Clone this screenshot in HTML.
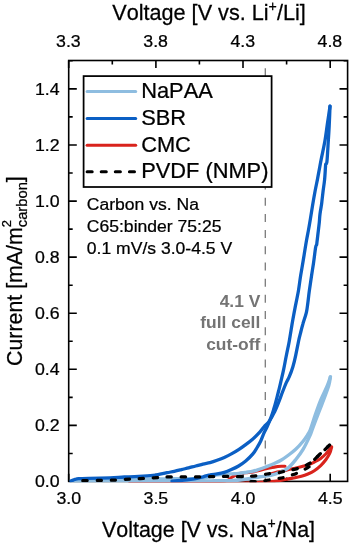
<!DOCTYPE html>
<html lang="en"><head><meta charset="utf-8"><title>Cyclic voltammetry of binders</title>
<style>html,body{margin:0;padding:0;background:#fff;}body{width:350px;height:544px;overflow:hidden;}svg{display:block;}text{font-kerning:none;stroke:#000;stroke-width:0.25px;font-family:"Liberation Sans",sans-serif;fill:#000;}</style>
</head><body>
<svg width="350" height="544" viewBox="0 0 350 544">
<rect width="350" height="544" fill="#fff"/>
<g stroke="#000" stroke-width="1.6" fill="none" stroke-linecap="butt">
<rect x="68.7" y="60.5" width="278.9" height="420.9"/>
<path d="M68.7 481.4v-7.6 M68.7 60.5v7.6"/>
<path d="M155.9 481.4v-7.6 M155.9 60.5v7.6"/>
<path d="M243.0 481.4v-7.6 M243.0 60.5v7.6"/>
<path d="M330.2 481.4v-7.6 M330.2 60.5v7.6"/>
<path d="M112.3 481.4v-4.0 M112.3 60.5v4.0"/>
<path d="M199.4 481.4v-4.0 M199.4 60.5v4.0"/>
<path d="M286.6 481.4v-4.0 M286.6 60.5v4.0"/>
<path d="M68.7 425.4h8.1 M347.6 425.4h-8.1"/>
<path d="M68.7 369.3h8.1 M347.6 369.3h-8.1"/>
<path d="M68.7 313.2h8.1 M347.6 313.2h-8.1"/>
<path d="M68.7 257.1h8.1 M347.6 257.1h-8.1"/>
<path d="M68.7 201.1h8.1 M347.6 201.1h-8.1"/>
<path d="M68.7 145.0h8.1 M347.6 145.0h-8.1"/>
<path d="M68.7 88.9h8.1 M347.6 88.9h-8.1"/>
<path d="M68.7 453.5h4.0 M347.6 453.5h-4.0"/>
<path d="M68.7 397.4h4.0 M347.6 397.4h-4.0"/>
<path d="M68.7 341.3h4.0 M347.6 341.3h-4.0"/>
<path d="M68.7 285.2h4.0 M347.6 285.2h-4.0"/>
<path d="M68.7 229.1h4.0 M347.6 229.1h-4.0"/>
<path d="M68.7 173.0h4.0 M347.6 173.0h-4.0"/>
<path d="M68.7 116.9h4.0 M347.6 116.9h-4.0"/>
<path d="M68.7 60.8h4.0 M347.6 60.8h-4.0"/>
</g>
<path d="M265.3 68.3V481" stroke="#7a7a7a" stroke-width="1.3" stroke-dasharray="8 8.18" fill="none"/>
<clipPath id="pc"><rect x="69.5" y="59" width="279" height="423.2"/></clipPath>
<g clip-path="url(#pc)">
<path d="M130.0 482.2 C141.7 482.2 184.2 482.2 200.0 482.0 C215.8 481.8 219.7 481.7 225.0 480.9 C230.3 480.1 229.7 478.4 232.0 477.2 C234.3 476.0 236.3 474.5 238.6 473.7 C240.9 473.0 243.3 473.1 245.7 472.8 C248.1 472.5 250.5 472.4 252.9 472.0 C255.3 471.6 257.6 470.9 260.0 470.3 C262.4 469.7 264.7 469.1 267.1 468.6 C269.5 468.1 271.9 467.5 274.3 467.1 C276.7 466.7 279.6 466.4 281.4 466.3 C283.2 466.2 284.4 466.3 285.0 466.3" stroke="#d9231c" stroke-width="3.1" fill="none" stroke-linecap="round" stroke-linejoin="round"/>
<path d="M268.0 474.6 C269.0 474.3 272.0 473.5 274.0 473.0 C276.0 472.5 278.1 472.0 280.0 471.6 C281.9 471.2 283.2 470.9 285.7 470.4 C288.2 469.8 292.3 468.9 295.0 468.3 C297.7 467.7 299.9 467.2 302.0 466.6 C304.1 466.0 305.8 465.6 307.9 464.9 C309.9 464.1 312.2 463.2 314.3 462.1 C316.4 461.0 318.8 459.8 320.7 458.4 C322.6 457.0 324.3 455.5 325.8 454.0 C327.3 452.5 328.5 450.8 329.5 449.6 C330.5 448.4 331.2 447.4 331.6 447.0" stroke="#d9231c" stroke-width="3.1" fill="none" stroke-linecap="round" stroke-linejoin="round"/>
<path d="M331.6 447.0 C331.3 448.1 330.7 451.3 329.7 453.4 C328.7 455.5 327.3 457.8 325.8 459.8 C324.3 461.8 322.6 463.8 320.7 465.6 C318.8 467.4 316.4 469.3 314.3 470.7 C312.2 472.1 310.0 473.1 307.9 474.0 C305.8 474.9 303.5 475.7 301.4 476.3 C299.2 476.9 297.1 477.4 295.0 477.8 C292.9 478.2 292.1 478.3 288.6 478.9 C285.2 479.5 279.1 480.8 274.3 481.4 C269.5 481.9 265.7 481.9 260.0 482.2 C254.3 482.5 261.7 483.0 240.0 483.0 C218.3 483.0 148.3 482.4 130.0 482.3" stroke="#d9231c" stroke-width="3.1" fill="none" stroke-linecap="round" stroke-linejoin="round"/>
<path d="M75.0 481.3 C79.2 481.2 91.7 480.9 100.0 480.6 C108.3 480.4 115.8 480.1 125.0 479.8 C134.2 479.5 147.5 479.2 155.0 479.0 C162.5 478.8 162.5 478.9 170.0 478.8 C177.5 478.7 193.3 478.9 200.0 478.5 C206.7 478.1 207.2 477.1 210.0 476.5 C212.8 475.9 214.6 475.3 217.0 474.9 C219.4 474.5 221.9 474.3 224.3 474.2 C226.7 474.0 229.0 474.0 231.4 473.9 C233.8 473.7 236.2 473.7 238.6 473.4 C241.0 473.2 243.3 472.8 245.7 472.4 C248.1 472.0 250.5 471.8 252.9 471.2 C255.3 470.7 257.6 469.8 260.0 469.0 C262.4 468.2 264.7 467.3 267.1 466.4 C269.5 465.5 271.9 464.6 274.3 463.5 C276.7 462.4 279.0 461.4 281.4 460.0 C283.8 458.6 286.2 456.8 288.6 455.0 C291.0 453.2 293.3 451.4 295.7 449.2 C298.1 447.0 301.0 443.8 302.9 441.5 C304.8 439.3 305.9 437.6 307.1 435.7 C308.3 433.7 309.0 433.2 310.3 429.8 C311.6 426.4 313.5 420.0 315.2 415.1 C316.9 410.2 318.6 405.3 320.6 400.4 C322.6 395.5 325.7 389.6 327.3 385.7 C328.9 381.8 329.9 378.4 330.4 376.9" stroke="#8ebde0" stroke-width="3.4" fill="none" stroke-linecap="round" stroke-linejoin="round"/>
<path d="M330.4 376.9 C330.1 378.4 329.9 381.8 328.7 385.7 C327.5 389.6 325.2 395.5 323.4 400.4 C321.6 405.3 319.6 410.2 317.7 415.1 C315.8 420.0 313.5 426.2 312.1 429.8 C310.8 433.4 311.1 433.1 309.6 436.4 C308.1 439.7 305.2 445.8 302.9 449.7 C300.6 453.6 298.1 456.7 295.7 459.7 C293.3 462.7 291.0 465.6 288.6 467.6 C286.2 469.6 283.8 470.7 281.4 471.8 C279.0 473.0 276.7 473.6 274.3 474.3 C271.9 475.0 269.5 475.5 267.1 475.9 C264.7 476.3 262.9 476.3 260.0 476.7 C257.1 477.1 253.3 477.9 250.0 478.5 C246.7 479.1 243.3 479.6 240.0 480.0 C236.7 480.4 234.2 480.5 230.0 480.6 C225.8 480.7 220.0 480.7 215.0 480.8 C210.0 480.9 210.8 480.9 200.0 481.0 C189.2 481.1 171.3 481.1 150.0 481.2 C128.7 481.3 85.0 481.4 72.0 481.4" stroke="#8ebde0" stroke-width="3.4" fill="none" stroke-linecap="round" stroke-linejoin="round"/>
<path d="M69.8 481.5 C70.2 481.4 71.1 481.0 72.0 480.6 C72.9 480.2 73.9 479.7 75.0 479.4 C76.1 479.1 76.3 478.9 78.6 478.7 C80.9 478.6 83.4 478.6 88.6 478.4 C93.8 478.2 104.0 478.0 110.0 477.8 C116.0 477.6 119.5 477.2 124.3 477.0 C129.1 476.8 133.8 476.7 138.6 476.4 C143.4 476.1 149.3 475.7 152.9 475.3 C156.5 474.9 157.6 474.5 160.0 474.1 C162.4 473.7 164.7 473.2 167.1 472.7 C169.5 472.2 171.9 471.8 174.3 471.3 C176.7 470.8 179.0 470.2 181.4 469.6 C183.8 469.0 186.2 468.5 188.6 467.9 C191.0 467.3 193.3 466.6 195.7 466.0 C198.1 465.4 200.5 464.7 202.9 464.1 C205.3 463.5 207.6 463.2 210.0 462.6 C212.4 462.0 214.7 461.2 217.1 460.3 C219.5 459.4 221.9 458.5 224.3 457.4 C226.7 456.3 229.0 455.2 231.4 453.9 C233.8 452.6 236.2 451.2 238.6 449.6 C241.0 448.1 243.3 446.4 245.7 444.6 C248.1 442.8 250.5 441.0 252.9 438.9 C255.3 436.8 258.0 434.1 260.0 431.9 C262.0 429.7 263.4 427.4 265.0 425.6 C266.6 423.8 267.8 423.4 269.3 421.2 C270.9 419.0 272.8 415.5 274.3 412.4 C275.9 409.3 277.2 406.0 278.6 402.4 C280.0 398.8 281.6 394.3 282.9 391.0 C284.2 387.7 285.3 384.8 286.4 382.4 C287.5 380.0 288.2 379.3 289.3 376.7 C290.4 374.1 291.8 370.3 292.9 366.7 C294.0 363.1 294.8 359.6 295.7 355.3 C296.6 351.0 297.8 344.8 298.6 341.0 C299.4 337.2 300.0 335.2 300.7 332.4 C301.4 329.5 301.9 327.2 302.9 323.9 C303.8 320.6 305.6 316.0 306.4 312.4 C307.2 308.8 307.4 306.0 307.9 302.4 C308.4 298.8 308.7 295.3 309.3 291.0 C309.9 286.7 310.7 281.5 311.4 276.7 C312.1 271.9 312.9 267.3 313.6 262.4 C314.3 257.5 315.1 250.5 315.6 247.5 C316.1 244.5 316.4 245.6 316.7 244.5 C316.9 243.4 316.8 243.2 317.1 241.0 C317.4 238.8 317.9 234.1 318.3 231.0 C318.7 227.9 319.0 225.2 319.3 222.4 C319.6 219.6 319.6 216.8 320.0 213.9 C320.4 211.1 321.0 207.7 321.4 205.3 C321.8 202.9 321.8 202.0 322.1 199.6 C322.4 197.2 322.7 194.3 323.1 191.0 C323.5 187.7 324.2 183.7 324.6 179.6 C325.0 175.5 325.3 169.2 325.5 166.7 C325.7 164.1 325.5 165.0 325.7 164.3 C325.9 163.6 326.5 164.6 326.8 162.6 C327.1 160.6 327.4 156.0 327.6 152.4 C327.9 148.8 328.0 145.4 328.3 141.0 C328.6 136.6 328.9 131.8 329.2 126.0 C329.5 120.2 329.9 109.5 330.0 106.2" stroke="#0b5fc4" stroke-width="3.3" fill="none" stroke-linecap="round" stroke-linejoin="round"/>
<path d="M330.0 106.2 C329.6 108.7 328.7 115.2 327.8 121.0 C326.9 126.8 325.9 135.3 324.9 141.0 C323.9 146.7 322.9 151.0 322.0 155.3 C321.1 159.6 320.6 162.6 319.8 166.7 C319.0 170.8 318.2 175.5 317.4 179.6 C316.6 183.7 315.9 186.7 315.1 191.0 C314.3 195.3 313.4 200.5 312.6 205.3 C311.8 210.1 311.0 215.3 310.3 219.6 C309.6 223.9 309.0 227.4 308.3 231.0 C307.6 234.6 307.2 236.5 306.4 241.0 C305.6 245.5 304.6 252.4 303.6 258.1 C302.7 263.8 301.6 269.8 300.7 275.3 C299.8 280.8 299.3 285.5 298.4 291.0 C297.4 296.5 296.1 302.6 295.0 308.1 C293.9 313.6 293.1 318.4 292.1 323.9 C291.2 329.4 290.2 335.8 289.3 341.0 C288.4 346.2 287.3 350.5 286.4 355.3 C285.4 360.1 284.6 365.1 283.6 369.6 C282.7 374.1 281.5 378.8 280.7 382.4 C279.9 386.0 279.3 388.1 278.6 391.0 C277.9 393.9 277.2 396.5 276.4 399.6 C275.6 402.7 274.6 406.5 273.6 409.6 C272.7 412.7 271.8 415.2 270.7 418.1 C269.6 421.0 268.3 424.1 267.1 426.7 C265.9 429.3 264.7 431.4 263.6 433.9 C262.5 436.4 261.6 439.2 260.5 441.5 C259.4 443.8 258.4 445.4 257.1 447.5 C255.8 449.6 254.8 451.6 252.9 453.9 C251.0 456.1 248.1 459.0 245.7 461.0 C243.3 463.0 241.0 464.6 238.6 466.0 C236.2 467.4 233.8 468.5 231.4 469.6 C229.0 470.7 226.7 471.7 224.3 472.4 C221.9 473.1 219.5 473.5 217.1 473.9 C214.7 474.3 212.4 474.3 210.0 474.8 C207.6 475.2 205.3 476.1 202.9 476.8 C200.5 477.4 198.1 478.2 195.7 478.6 C193.3 479.1 191.0 479.4 188.6 479.7 C186.2 480.0 183.8 480.2 181.0 480.5 C178.2 480.8 173.5 481.1 172.0 481.2" stroke="#0b5fc4" stroke-width="3.3" fill="none" stroke-linecap="round" stroke-linejoin="round"/>
<path d="M81.6 480.7 C84.7 480.6 94.1 480.5 100.0 480.4 C105.9 480.3 111.7 480.2 117.0 480.0 C122.3 479.8 127.2 479.2 132.0 478.9 C136.8 478.6 141.3 478.6 146.0 478.3 C150.7 478.1 156.0 477.6 160.0 477.4 C164.0 477.2 163.3 477.0 170.0 476.9 C176.7 476.8 191.3 477.0 200.0 476.9 C208.7 476.8 215.6 476.4 222.0 476.4 C228.4 476.4 233.6 476.7 238.6 476.7 C243.6 476.6 247.8 476.5 252.0 476.2 C256.2 475.9 260.5 475.1 263.6 474.6 C266.7 474.1 268.3 473.7 270.7 473.4 C273.1 473.1 275.4 473.3 277.9 472.9 C280.4 472.5 283.4 471.5 285.7 471.0 C287.9 470.5 289.1 470.5 291.4 470.0 C293.7 469.5 297.1 468.8 299.3 468.1 C301.5 467.4 302.5 466.8 304.3 466.0 C306.1 465.2 308.6 464.0 310.0 463.1 C311.4 462.2 311.3 462.1 313.0 460.6 C314.7 459.1 317.2 456.6 320.0 454.0 C322.8 451.4 328.0 446.5 329.6 445.0" stroke="#000000" stroke-width="3.2" fill="none" stroke-linecap="round" stroke-linejoin="round" stroke-dasharray="4.3 9.75" stroke-dashoffset="-1.4"/>
<path d="M247.5 481.9 C248.2 481.9 249.9 481.7 252.0 481.6 C254.1 481.5 257.7 481.6 260.0 481.4 C262.3 481.2 263.2 481.0 265.7 480.6 C268.2 480.2 272.1 479.4 275.0 478.9 C277.9 478.4 280.5 478.2 282.9 477.7 C285.3 477.2 287.1 476.4 289.3 475.7 C291.6 475.0 294.1 474.3 296.4 473.4 C298.7 472.5 300.6 471.5 302.9 470.3 C305.2 469.1 308.3 467.6 310.0 466.0 C311.7 464.4 311.3 462.9 313.0 461.0 C314.7 459.1 317.2 457.0 320.0 454.3 C322.8 451.6 328.0 446.6 329.6 445.0" stroke="#000000" stroke-width="3.2" fill="none" stroke-linecap="round" stroke-linejoin="round" stroke-dasharray="4.3 9.75" stroke-dashoffset="-3.5"/>
</g>
<rect x="83.6" y="76.1" width="188.0" height="110.9" fill="#fff" stroke="#000" stroke-width="1.75"/>
<path d="M87.1 91.6H135.7" stroke="#8ebde0" stroke-width="3.0" fill="none" stroke-linecap="round"/>
<text transform="translate(141.2 98.0) scale(1.025 1)" font-size="21.3">NaPAA</text>
<path d="M87.1 118.4H135.7" stroke="#0b5fc4" stroke-width="3.0" fill="none" stroke-linecap="round"/>
<text transform="translate(141.2 124.8) scale(1.025 1)" font-size="21.3">SBR</text>
<path d="M87.1 145.2H135.7" stroke="#d9231c" stroke-width="3.0" fill="none" stroke-linecap="round"/>
<text transform="translate(141.2 151.6) scale(1.025 1)" font-size="21.3">CMC</text>
<path d="M87.1 171.7H135.7" stroke="#000" stroke-width="3.0" fill="none" stroke-dasharray="5.1 9" stroke-linecap="round"/>
<text transform="translate(141.2 178.1) scale(1.025 1)" font-size="21.3">PVDF (NMP)</text>
<text transform="translate(68.7 503.9) scale(1.025 1)" font-size="17.3" text-anchor="middle">3.0</text>
<text transform="translate(155.9 503.9) scale(1.025 1)" font-size="17.3" text-anchor="middle">3.5</text>
<text transform="translate(243.0 503.9) scale(1.025 1)" font-size="17.3" text-anchor="middle">4.0</text>
<text transform="translate(330.2 503.9) scale(1.025 1)" font-size="17.3" text-anchor="middle">4.5</text>
<text transform="translate(68.4 46.5) scale(1.025 1)" font-size="17.3" text-anchor="middle">3.3</text>
<text transform="translate(155.6 46.5) scale(1.025 1)" font-size="17.3" text-anchor="middle">3.8</text>
<text transform="translate(242.7 46.5) scale(1.025 1)" font-size="17.3" text-anchor="middle">4.3</text>
<text transform="translate(329.9 46.5) scale(1.025 1)" font-size="17.3" text-anchor="middle">4.8</text>
<text transform="translate(59.6 487.3) scale(1.025 1)" font-size="17.3" text-anchor="end">0.0</text>
<text transform="translate(59.6 431.2) scale(1.025 1)" font-size="17.3" text-anchor="end">0.2</text>
<text transform="translate(59.6 375.1) scale(1.025 1)" font-size="17.3" text-anchor="end">0.4</text>
<text transform="translate(59.6 319.0) scale(1.025 1)" font-size="17.3" text-anchor="end">0.6</text>
<text transform="translate(59.6 262.9) scale(1.025 1)" font-size="17.3" text-anchor="end">0.8</text>
<text transform="translate(59.6 206.9) scale(1.025 1)" font-size="17.3" text-anchor="end">1.0</text>
<text transform="translate(59.6 150.8) scale(1.025 1)" font-size="17.3" text-anchor="end">1.2</text>
<text transform="translate(59.6 94.7) scale(1.025 1)" font-size="17.3" text-anchor="end">1.4</text>
<text transform="translate(112.2 19.7) scale(1.012 1)" font-size="21.4">Voltage [V vs. Li<tspan font-size="14" dy="-8.6">+</tspan><tspan dy="8.6">/Li]</tspan></text>
<text transform="translate(102.0 536.7) scale(1.002 1)" font-size="21.4">Voltage [V vs. Na<tspan font-size="14" dy="-8.6">+</tspan><tspan dy="8.6">/Na]</tspan></text>
<text transform="translate(22.0 365.9) rotate(-90) scale(0.997 1)" font-size="21.4">Current [mA/m<tspan font-size="13" dy="-11.2">2</tspan><tspan font-size="14.8" dy="16.4" dx="-7.2">carbon</tspan><tspan dy="-5.2">]</tspan></text>
<text transform="translate(86.8 210.0) scale(1.015 1)" font-size="17.3">Carbon vs. Na</text>
<text transform="translate(86.8 232.2) scale(1.015 1)" font-size="17.3">C65:binder 75:25</text>
<text transform="translate(86.8 254.4) scale(1.015 1)" font-size="17.3">0.1 mV/s 3.0-4.5 V</text>
<text transform="translate(260.3 306.7) scale(1.025 1)" font-size="17.0" text-anchor="end" font-weight="bold" style="fill:#747474;stroke:none">4.1 V</text>
<text transform="translate(260.3 328.3) scale(1.025 1)" font-size="17.0" text-anchor="end" font-weight="bold" style="fill:#747474;stroke:none">full cell</text>
<text transform="translate(260.3 349.9) scale(1.025 1)" font-size="17.0" text-anchor="end" font-weight="bold" style="fill:#747474;stroke:none">cut-off</text>
</svg>
</body></html>
